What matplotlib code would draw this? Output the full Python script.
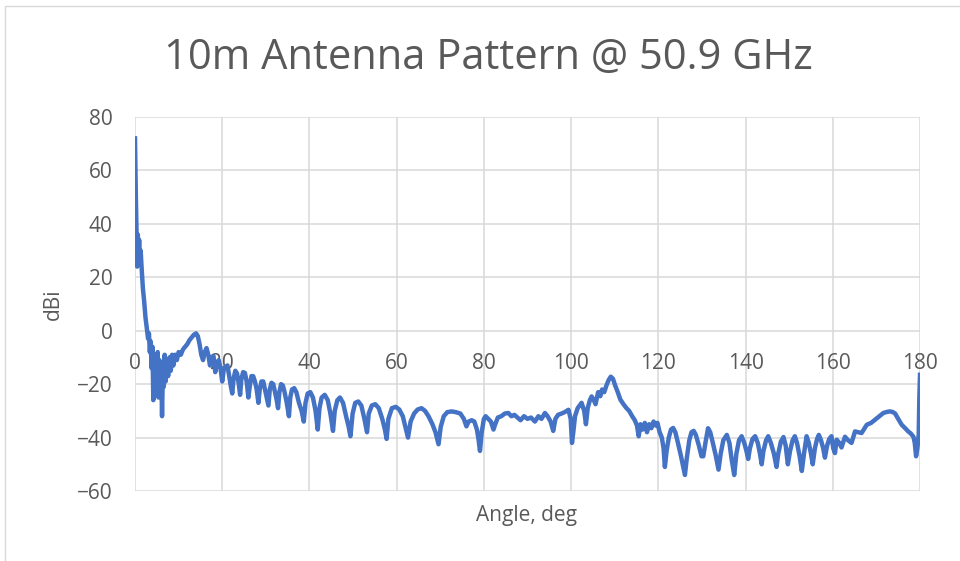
import matplotlib.pyplot as plt
from matplotlib.patches import Rectangle

# antenna pattern (angle in deg, gain in dBi)
angle = [
    0.0, 0.2, 0.35, 0.5, 0.65, 0.8, 0.95, 1.1, 1.3, 1.5, 1.8, 2.1, 2.4, 2.7,
    3.0, 3.2, 3.4, 3.6, 3.8, 4.0, 4.2, 4.4, 4.6, 4.8, 5.0, 5.2, 5.4, 5.6, 5.8,
    6.0, 6.2, 6.4, 6.6, 6.8, 7.0, 7.3, 7.6, 7.9, 8.2, 8.5, 8.8, 9.2, 9.6, 10.0,
    10.5, 11.0, 11.5, 12.0, 12.5, 13.0, 13.5, 14.0, 14.4, 14.8, 15.2, 15.6,
    16.0, 16.4, 16.8, 17.2, 17.6, 18.0, 18.4, 18.8, 19.2, 19.6, 20.0, 20.4,
    20.8, 21.2, 21.6, 22.0, 22.3, 22.6, 23.0, 23.4, 23.8, 24.1, 24.4, 24.8,
    25.2, 25.6, 26.0, 26.3, 26.7, 27.1, 27.5, 27.9, 28.3, 28.6, 29.0, 29.4,
    29.8, 30.2, 30.6, 30.9, 31.3, 31.7, 32.1, 32.5, 32.8, 33.1, 33.5, 33.9,
    34.3, 34.8, 35.3, 35.6, 36.0, 36.5, 37.0, 37.6, 38.2, 38.7, 39.1, 39.6,
    40.2, 40.8, 41.4, 41.9, 42.3, 42.8, 43.5, 44.2, 44.8, 45.4, 45.8, 46.4,
    47.0, 47.7, 48.4, 49.0, 49.4, 49.9, 50.5, 51.2, 51.9, 52.6, 53.2, 53.6,
    54.3, 55.1, 55.9, 56.7, 57.3, 57.7, 58.1, 58.9, 59.8, 60.6, 61.4, 62.0,
    62.6, 63.2, 64.0, 64.8, 65.7, 66.5, 67.3, 68.2, 68.9, 69.6, 70.1, 70.8,
    71.6, 72.6, 73.6, 74.6, 75.4, 76.0, 76.5, 77.2, 77.8, 78.4, 78.8, 79.1,
    79.5, 80.0, 80.4, 81.0, 81.6, 82.2, 82.6, 83.2, 84.0, 84.8, 85.6, 86.3,
    87.0, 87.7, 88.4, 89.2, 90.0, 90.8, 91.7, 92.5, 93.2, 94.0, 94.6, 95.3,
    95.9, 96.4, 97.0, 97.8, 98.5, 99.4, 99.9, 100.2, 100.5, 100.9, 101.5,
    102.4, 103.0, 103.4, 103.8, 104.3, 104.7, 105.2, 105.6, 106.2, 106.7,
    107.1, 107.6, 108.1, 108.6, 109.1, 109.6, 110.1, 110.7, 111.3, 112.0,
    112.7, 113.3, 114.0, 114.6, 115.1, 115.5, 115.9, 116.4, 116.9, 117.4,
    117.9, 118.4, 118.9, 119.4, 119.8, 120.3, 120.8, 121.2, 121.5, 121.9,
    122.4, 122.9, 123.4, 123.9, 124.5, 125.2, 125.7, 126.1, 126.5, 127.1,
    127.6, 128.1, 128.6, 129.3, 129.9, 130.3, 130.8, 131.4, 131.9, 132.5,
    133.2, 133.8, 134.3, 134.9, 135.7, 136.3, 136.8, 137.4, 137.9, 138.5,
    139.1, 139.7, 140.2, 140.6, 141.0, 141.6, 142.2, 142.8, 143.3, 143.7,
    144.1, 144.7, 145.2, 145.8, 146.5, 147.1, 147.5, 148.1, 148.7, 149.2,
    149.7, 150.2, 150.8, 151.3, 151.8, 152.4, 152.9, 153.4, 154.0, 154.5,
    155.0, 155.4, 155.9, 156.4, 156.8, 157.3, 157.8, 158.2, 158.7, 159.2,
    159.7, 160.1, 160.5, 160.9, 161.5, 162.0, 162.8, 163.5, 164.3, 165.1,
    165.8, 166.6, 167.3, 167.8, 168.8, 169.7, 170.7, 171.6, 172.4, 173.1,
    173.7, 174.3, 175.0, 175.8, 176.6, 177.3, 177.9, 178.5, 178.8, 179.1,
    179.4, 179.7, 179.85, 180.0,
]
gain = [
    72, 50, 38, 24, 36, 26, 34, 25, 30, 24, 16, 11, 5, 1,
    -3, -1, -8, -4, -14, -6, -26, -10, -24, -9, -18, -8, -25, -11, -20,
    -13, -32, -14, -21, -9, -19, -11, -17, -10, -15, -9, -13, -9, -11, -8,
    -9, -7, -6, -5, -3.5, -2.5, -1.5, -1, -2, -5, -9, -11,
    -8, -6.5, -9, -13, -10, -9.5, -15.5, -12, -11, -14, -19, -14,
    -13.5, -13, -17, -21, -23.5, -18, -15, -16, -20, -24, -18, -15.5,
    -15.8, -19, -25, -21, -17, -17, -19, -22, -27, -22, -19, -19,
    -22, -25, -28, -22, -19.5, -20, -23, -26, -29, -23, -20, -20.5,
    -23, -27, -32, -25, -22, -21.5, -23, -27, -30, -34, -27, -23.5,
    -23, -25, -30, -37, -29, -25, -24, -26, -31, -37.5, -30, -26,
    -25, -27, -32, -36, -39.5, -31, -27, -26.5, -28, -33, -38, -31,
    -28, -27.5, -29, -33, -37, -40.5, -33, -29, -28.5, -29.5, -32, -36,
    -40, -34, -31, -29.5, -29, -30, -32, -35, -38, -42.5, -36, -32,
    -30.5, -30.2, -30.5, -31, -33, -35.8, -34, -33.5, -34, -37, -41, -45,
    -38, -33, -32, -33, -34, -37, -35, -32.5, -32, -31, -30.8, -32,
    -31.5, -32.5, -33.5, -32, -33, -32.5, -34, -32, -33, -30.8, -32, -34,
    -37.5, -33, -31.5, -31, -30.5, -29.6, -33, -42, -38, -32, -29,
    -27, -30, -35, -29, -26, -24.6, -26, -27.5, -23, -24.5,
    -22, -23, -20.5, -18.5, -17.2, -18, -20.5, -23, -25.8, -27.5,
    -29, -30, -32, -33.5, -35.5, -39.5, -35, -37, -34.5, -38,
    -35, -36.5, -34, -35.5, -34.5, -38, -40, -44, -51, -45,
    -40, -37, -36.4, -38, -42, -47, -51, -54, -48, -41,
    -38, -37.5, -39, -43, -47, -47, -42, -36.5, -38, -42,
    -47, -52, -46, -41, -39, -42, -48, -54, -46, -41,
    -39.5, -42, -45, -48, -44, -40.5, -39.5, -42, -46, -50,
    -45, -41, -39.5, -42, -46, -51, -46, -41.5, -39.8, -43,
    -50, -45, -41, -39.5, -42, -47, -52.5, -46, -39.5, -42,
    -46, -50, -44, -40.5, -39, -41, -44, -47.5, -43, -40.5,
    -39.5, -44, -45.8, -40.8, -42, -43.7, -39.7, -41, -42, -37.7,
    -38, -38.3, -36.5, -35.2, -34.5, -33.3, -32, -30.8, -30.4, -30.2,
    -30.4, -31, -33, -35.2, -36.5, -37.7, -38.5, -39.7, -42, -47,
    -44, -39, -25, -16.5,
]

x_ticks = [0, 20, 40, 60, 80, 100, 120, 140, 160, 180]
y_ticks = [-60, -40, -20, 0, 20, 40, 60, 80]

text_color = '#595959'
plt.rcParams['font.family'] = ['Open Sans', 'DejaVu Sans']

fig = plt.figure(figsize=(9.6, 5.61), dpi=100)
ax = fig.add_axes([135 / 960, 1 - 491 / 561, 785 / 960, 374 / 561])

ax.plot(angle, gain, color='#4472C4', linewidth=3.2, solid_joinstyle='round')

ax.set_xlim(0, 180)
ax.set_ylim(-60, 80)
ax.set_xticks(x_ticks)
ax.set_yticks(y_ticks)
ax.grid(True, color='#D9D9D9', linewidth=1.1)
ax.set_axisbelow(True)
for side in ['top', 'right', 'left', 'bottom']:
    ax.spines[side].set_visible(False)
# category labels sit under the zero line, like the spreadsheet chart
ax.spines['bottom'].set_position(('data', 0))
ax.tick_params(axis='x', length=0, pad=16, labelsize=15, labelcolor=text_color)
ax.tick_params(axis='y', length=0, pad=16, labelsize=15, labelcolor=text_color)

fig.text(53 / 960, 1 - 304 / 561, 'dBi', rotation=90, ha='center', va='center',
         fontsize=15, color=text_color)
fig.text(527 / 960, 1 - 516 / 561, 'Angle, deg', ha='center', va='center',
         fontsize=15, color=text_color)
fig.text(488 / 960, 1 - 58 / 561, '10m Antenna Pattern @ 50.9 GHz', ha='center',
         va='center', fontsize=30, color=text_color)

fig.patches.append(Rectangle((4.5 / 960, -0.1), 1.2, 1.1 - 5.5 / 561,
                             transform=fig.transFigure, fill=False,
                             edgecolor='#D9D9D9', linewidth=1))

fig.savefig('out.png', dpi=100)
